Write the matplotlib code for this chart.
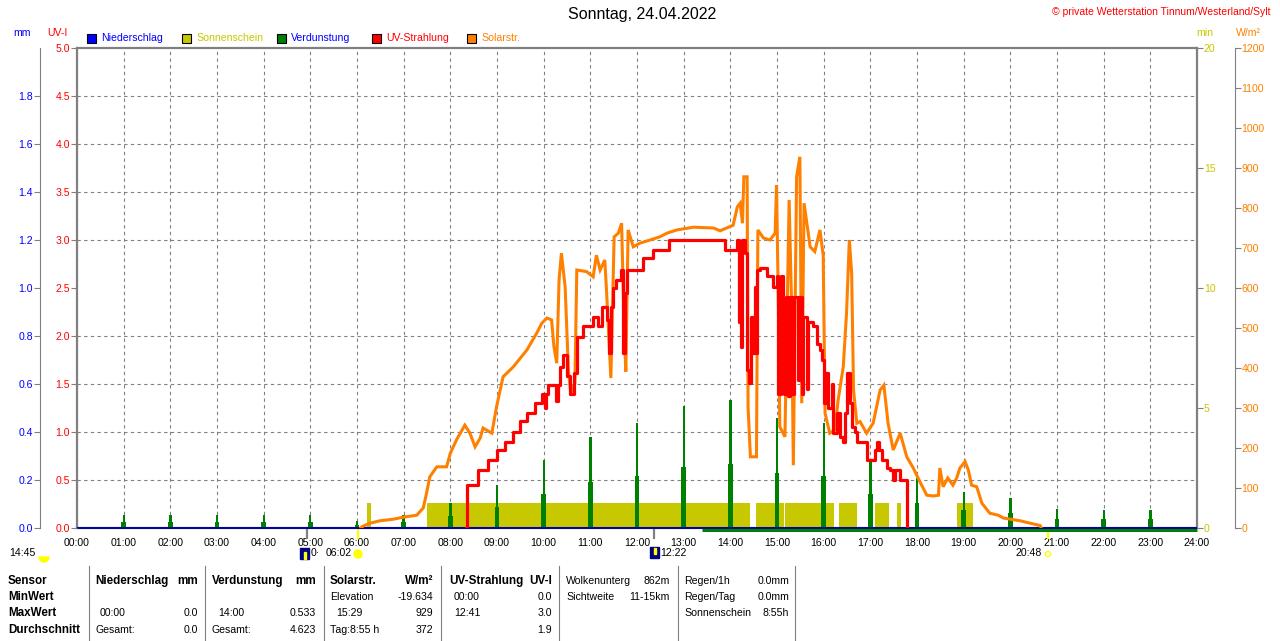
import numpy as np
import matplotlib
matplotlib.use("Agg")
import matplotlib.pyplot as plt
from matplotlib.patches import Rectangle, Circle, Wedge
from matplotlib.lines import Line2D
from matplotlib import transforms

plt.rcParams['font.family'] = ['Liberation Sans', 'DejaVu Sans']

W, H = 1280, 641

# ---- data ----
hours = list(range(25))
hour_labels = ["%02d:00" % h for h in hours]

# Solarstrahlung (W/m2)
solar_t = [6.08, 6.10, 6.28, 6.49, 6.78, 6.99, 7.28, 7.42, 7.49, 7.56, 7.71, 7.92, 8.00, 8.13,
           8.31, 8.42, 8.53, 8.64, 8.70, 8.89, 8.99, 9.13, 9.35, 9.64, 9.85, 9.96, 10.07, 10.17,
           10.22, 10.28, 10.33, 10.38, 10.46, 10.53, 10.58, 10.67, 10.71, 10.92, 11.06, 11.13,
           11.21, 11.31, 11.35, 11.44, 11.51, 11.60, 11.67, 11.72, 11.76, 11.81, 11.92, 12.06,
           12.28, 12.49, 12.64, 12.85, 13.21, 13.64, 13.78, 14.06, 14.15, 14.21, 14.26, 14.29,
           14.36, 14.38, 14.43, 14.56, 14.59, 14.71, 14.85, 14.96, 14.99, 15.03, 15.06, 15.17,
           15.22, 15.26, 15.31, 15.35, 15.38, 15.42, 15.49, 15.53, 15.58, 15.64, 15.71, 15.81,
           15.92, 15.99, 16.03, 16.13, 16.24, 16.31, 16.42, 16.49, 16.55, 16.60, 16.64, 16.71,
           16.78, 16.92, 17.06, 17.21, 17.29, 17.38, 17.49, 17.64, 17.78, 17.92, 18.06, 18.21,
           18.35, 18.46, 18.49, 18.56, 18.66, 18.77, 18.85, 18.92, 19.03, 19.10, 19.17, 19.28,
           19.39, 19.56, 19.74, 19.85, 20.21, 20.42, 20.64, 20.66]
solar_w = [0, 3, 12, 18, 22, 27, 32, 50, 87, 128, 153, 153, 187, 220,
           257, 237, 203, 225, 250, 237, 303, 378, 403, 445, 487, 512, 525, 520,
           453, 412, 620, 687, 603, 395, 337, 362, 645, 641, 628, 682,
           645, 670, 587, 375, 728, 737, 762, 520, 391, 745, 703, 712,
           720, 728, 737, 745, 752, 750, 743, 757, 803, 812, 762, 878,
           878, 303, 178, 178, 745, 725, 720, 737, 857, 553, 253, 228,
           553, 820, 570, 157, 470, 878, 928, 312, 812, 762, 703, 691,
           745, 682, 287, 237, 245, 320, 403, 537, 720, 637, 345, 262,
           266, 237, 262, 345, 357, 262, 195, 237, 178, 150, 116, 82,
           80, 82, 150, 103, 125, 107, 125, 150, 166, 145, 107, 103,
           62, 37, 32, 25, 18, 12, 6, 0]

# UV-Strahlung (UV-I), stepwise
uv_t = [8.34, 8.35, 8.60, 8.81, 8.99, 9.17, 9.35, 9.49, 9.64, 9.81, 9.96, 10.03, 10.06, 10.10,
        10.27, 10.31, 10.34, 10.42, 10.49, 10.56, 10.64, 10.71, 10.85, 11.06, 11.17, 11.24,
        11.35, 11.41, 11.44, 11.49, 11.56, 11.65, 11.69, 11.74, 11.79, 12.12, 12.35, 12.69,
        13.89, 14.14, 14.19, 14.23, 14.26, 14.31, 14.35, 14.39, 14.44, 14.48, 14.52, 14.55,
        14.58, 14.64, 14.78, 14.92, 14.99, 15.03, 15.08, 15.12, 15.15, 15.19, 15.23, 15.28,
        15.32, 15.36, 15.42, 15.46, 15.49, 15.53, 15.56, 15.64, 15.67, 15.78, 15.85, 15.92,
        15.96, 16.01, 16.06, 16.10, 16.17, 16.21, 16.28, 16.35, 16.41, 16.46, 16.51, 16.56,
        16.60, 16.67, 16.71, 16.92, 17.10, 17.15, 17.19, 17.24, 17.35, 17.42, 17.49, 17.53,
        17.63, 17.78]
uv_i = [0.0, 0.45, 0.60, 0.71, 0.81, 0.90, 1.00, 1.11, 1.20, 1.30, 1.40, 1.25, 1.40, 1.49,
        1.32, 1.49, 1.68, 1.80, 1.58, 1.40, 1.61, 1.99, 2.10, 2.20, 2.10, 2.30,
        2.17, 1.82, 2.30, 2.50, 2.58, 2.69, 1.82, 2.45, 2.69, 2.81, 2.90, 3.00,
        2.90, 3.00, 2.15, 1.89, 3.00, 2.86, 1.65, 1.51, 2.20, 1.82, 2.51, 1.82,
        2.69, 2.71, 2.62, 2.51, 2.62, 1.40, 2.62, 1.78, 1.40, 2.41, 1.37, 2.41,
        1.40, 2.41, 2.41, 1.54, 2.41, 1.40, 2.20, 1.45, 2.15, 2.10, 1.92, 1.85,
        1.75, 1.30, 1.61, 1.25, 1.50, 0.99, 1.20, 0.95, 0.90, 1.20, 1.61, 1.30,
        1.05, 1.00, 0.90, 0.71, 0.81, 0.90, 0.81, 0.71, 0.62, 0.60, 0.50, 0.60,
        0.50, 0.0]

# Verdunstung (mm) per hour
evap_hours = list(range(1, 24))
evap_mm = [0.054, 0.054, 0.054, 0.054, 0.054, 0.029, 0.054, 0.103, 0.179, 0.283, 0.380, 0.436,
           0.510, 0.533, 0.460, 0.436, 0.283, 0.207, 0.151, 0.126, 0.078, 0.075, 0.075]
evap_line_t = [13.39, 24]
evap_line_mm = [0, 0]

# Niederschlag (mm)
rain_t = [0, 24]
rain_mm = [0, 0]

# Sonnenschein (min)
sun_start = [6.22, 7.51, 14.55, 15.18, 16.33, 17.10, 17.58, 18.86]
sun_end = [6.30, 14.42, 15.15, 16.22, 16.71, 17.41, 17.65, 19.19]
sun_min = 1.05

# sun / moon events below the time axis
event_t = [4.93, 6.03, 12.37, 20.80]
event_col = ['#808080', '#FFFF00', '#808080', '#FFFF00']

# ---- colours ----
blue = '#0000FF'
yellow = '#C8C800'
green = '#008000'
red = '#FF0000'
orange = '#FF8000'
gray = '#808080'

fig = plt.figure(figsize=(W / 100, H / 100), dpi=100)
fig.patch.set_facecolor('white')
# pixel transform: (x, y from top) in pixels
pix = transforms.Affine2D().scale(1, -1).translate(0, H).scale(1 / 100) + fig.dpi_scale_trans

ax = fig.add_axes([77 / W, 1 - 528 / H, 1120 / W, 480 / H])
ax_mm = ax.twinx()
ax_w = ax.twinx()
ax_uv = ax.twinx()

ax.set_xlim(0, 24)
ax.set_ylim(0, 20)
ax_mm.set_ylim(0, 2)
ax_w.set_ylim(0, 1200)
ax_uv.set_ylim(0, 5)

fs = 7.6
fsb = 8.4

# base axes: sunshine + grid + frame
ax.bar(sun_start, sun_min, width=np.array(sun_end) - np.array(sun_start), align='edge',
       color=yellow, linewidth=0, zorder=2)
ax.set_xticks(hours)
ax.set_xticklabels(hour_labels)
ax.set_yticks([0, 5, 10, 15, 20])
ax.set_yticks(np.arange(2, 20, 2), minor=True)
ax.set_axisbelow(True)
ax.grid(axis='x', which='major', color=gray, ls=(0, (3, 3)), lw=0.8)
ax.yaxis.grid(True, which='minor', color=gray, ls=(0, (3, 3)), lw=0.8)
ax.yaxis.tick_right()
ax.tick_params(axis='y', which='minor', length=0)
ax.tick_params(axis='y', which='major', color=gray, labelcolor=yellow, labelsize=fs,
               length=4, pad=1)
ax.tick_params(axis='x', length=0, pad=7, labelsize=fs, labelcolor='black')
for s in ax.spines.values():
    s.set_color(gray)
    s.set_linewidth(1.6)

# mm axis (left, outer)
for s in ax_mm.spines.values():
    s.set_visible(False)
ax_mm.spines['left'].set_visible(True)
ax_mm.spines['left'].set_position(('axes', -0.0326))
ax_mm.spines['left'].set_color(gray)
ax_mm.spines['left'].set_linewidth(0.8)
ax_mm.yaxis.tick_left()
ax_mm.set_yticks(np.arange(0, 1.9, 0.2))
ax_mm.yaxis.set_major_formatter('{x:.1f}')
ax_mm.tick_params(axis='y', color=gray, labelcolor=blue, labelsize=fs, length=4, pad=1.5)

# W/m2 axis (right, outer)
for s in ax_w.spines.values():
    s.set_visible(False)
ax_w.spines['right'].set_visible(True)
ax_w.spines['right'].set_position(('axes', 1.0335))
ax_w.spines['right'].set_color(gray)
ax_w.spines['right'].set_linewidth(0.8)
ax_w.set_yticks(np.arange(0, 1201, 100))
ax_w.tick_params(axis='y', color=gray, labelcolor=orange, labelsize=fs, length=4, pad=1)

# UV axis (left, frame)
for s in ax_uv.spines.values():
    s.set_visible(False)
ax_uv.yaxis.tick_left()
ax_uv.set_yticks(np.arange(0, 5.01, 0.5))
ax_uv.yaxis.set_major_formatter('{x:.1f}')
ax_uv.tick_params(axis='y', color=gray, labelcolor=red, labelsize=fs, length=4, pad=1)

# Verdunstung spikes and zero lines
ax_mm.bar(evap_hours, evap_mm, width=0.05, color=green, linewidth=0)
ax_mm.bar(evap_hours, np.array(evap_mm) * 0.5, width=0.1, color=green, linewidth=0)
low = transforms.offset_copy(ax_mm.transData, fig=fig, x=0, y=-2, units='dots')
ax_mm.plot(evap_line_t, evap_line_mm, color=green, lw=2.2, transform=low, clip_on=False,
           solid_capstyle='butt')
ax_mm.plot(rain_t, rain_mm, color='#0000A0', lw=1.4, clip_on=False, solid_capstyle='butt')

# Solarstrahlung
ax_w.plot(solar_t, solar_w, color=orange, lw=2.2, solid_joinstyle='miter')

# UV-Strahlung
ax_uv.plot(uv_t, uv_i, color=red, lw=2.3, drawstyle='steps-post')

# event ticks below axis
for t, c in zip(event_t, event_col):
    ax.plot([t, t], [0, -0.02], color=c, lw=1.6, transform=ax.get_xaxis_transform(),
            clip_on=False)

# ---- header texts ----
fig.text(642, 15, 'Sonntag, 24.04.2022', transform=pix, ha='center', va='center', size=11.5)
fig.text(1270, 12, '\u00a9 private Wetterstation Tinnum/Westerland/Sylt', transform=pix,
         ha='right', va='center', size=7.5, color=red)
fig.text(22, 33, 'mm', transform=pix, ha='center', va='center', size=fs, color=blue)
fig.text(57, 33, 'UV-I', transform=pix, ha='center', va='center', size=fs, color=red)
fig.text(1205, 33, 'min', transform=pix, ha='center', va='center', size=fs, color=yellow)
fig.text(1248, 33, 'W/m\u00b2', transform=pix, ha='center', va='center', size=fs, color=orange)

legend_labels = ['Niederschlag', 'Sonnenschein', 'Verdunstung', 'UV-Strahlung', 'Solarstr.']
legend_fill = [blue, yellow, green, red, orange]
legend_text = [blue, yellow, blue, red, orange]
for i, (lab, fc, tc) in enumerate(zip(legend_labels, legend_fill, legend_text)):
    x0 = 87 + i * 95
    fig.add_artist(Rectangle((x0, 43), 9, -9, transform=pix, facecolor=fc,
                             edgecolor='black', lw=0.8))
    fig.text(x0 + 14, 38, lab, transform=pix, ha='left', va='center', size=fs, color=tc)

# ---- astro line below axis ----
fig.text(9, 553, '14:45', transform=pix, ha='left', va='center', size=fs)
fig.add_artist(Wedge((44, 557), 5, 0, 180, transform=pix, color='#FFFF00'))
fig.add_artist(Rectangle((300, 559), 9, -11, transform=pix, color='#000080'))
fig.add_artist(Rectangle((304, 559), 2, -7, transform=pix, color='#FFFF00'))
fig.text(311, 553, '0\u00b7', transform=pix, ha='left', va='center', size=fs)
fig.text(326, 553, '06:02', transform=pix, ha='left', va='center', size=fs)
fig.add_artist(Circle((358, 554), 4, transform=pix, color='#FFFF00'))
fig.add_artist(Rectangle((650, 558), 9, -11, transform=pix, color='#000080'))
fig.add_artist(Rectangle((654, 554), 2, -6, transform=pix, color='#FFFF00'))
fig.text(660, 553, '12:22', transform=pix, ha='left', va='center', size=fs)
fig.text(1015, 553, '20:48', transform=pix, ha='left', va='center', size=fs)
fig.add_artist(Circle((1048, 554), 2.5, transform=pix, facecolor='none', edgecolor='#FFFF00',
                      lw=1))

# ---- bottom table ----
for xs in [89, 205, 324, 441, 559, 678, 795]:
    fig.add_artist(Line2D([xs, xs], [566, 641], transform=pix, color=gray, lw=0.8))

rows_y = [581, 597, 613, 630]
left_bold = ['Sensor', 'MinWert', 'MaxWert', 'Durchschnitt']
for y, s in zip(rows_y, left_bold):
    fig.text(8, y, s, transform=pix, ha='left', va='center', size=fsb, weight='bold')

header_left = [(95, 'Niederschlag'), (212, 'Verdunstung'), (330, 'Solarstr.'), (449, 'UV-Strahlung')]
header_right = [(198, 'mm'), (316, 'mm'), (433, 'W/m\u00b2'), (552, 'UV-I')]
for x, s in header_left:
    fig.text(x, rows_y[0], s, transform=pix, ha='left', va='center', size=fsb, weight='bold')
for x, s in header_right:
    fig.text(x, rows_y[0], s, transform=pix, ha='right', va='center', size=fsb, weight='bold')

cells_left = [
    (330, 1, 'Elevation'), (454, 1, '00:00'),
    (100, 2, '00:00'), (218, 2, '14:00'), (336, 2, '15:29'), (454, 2, '12:41'),
    (95, 3, 'Gesamt:'), (212, 3, 'Gesamt:'), (330, 3, 'Tag:8:55 h'),
    (566, 0, 'Wolkenunterg'), (566, 1, 'Sichtweite'),
    (684, 0, 'Regen/1h'), (684, 1, 'Regen/Tag'), (684, 2, 'Sonnenschein'),
]
cells_right = [
    (433, 1, '-19.634'), (552, 1, '0.0'),
    (198, 2, '0.0'), (316, 2, '0.533'), (433, 2, '929'), (552, 2, '3.0'),
    (198, 3, '0.0'), (316, 3, '4.623'), (433, 3, '372'), (552, 3, '1.9'),
    (670, 0, '862m'), (670, 1, '11-15km'),
    (789, 0, '0.0mm'), (789, 1, '0.0mm'), (789, 2, '8:55h'),
]
for x, r, s in cells_left:
    fig.text(x, rows_y[r], s, transform=pix, ha='left', va='center', size=fs)
for x, r, s in cells_right:
    fig.text(x, rows_y[r], s, transform=pix, ha='right', va='center', size=fs)

fig.savefig('out.png', dpi=100)
